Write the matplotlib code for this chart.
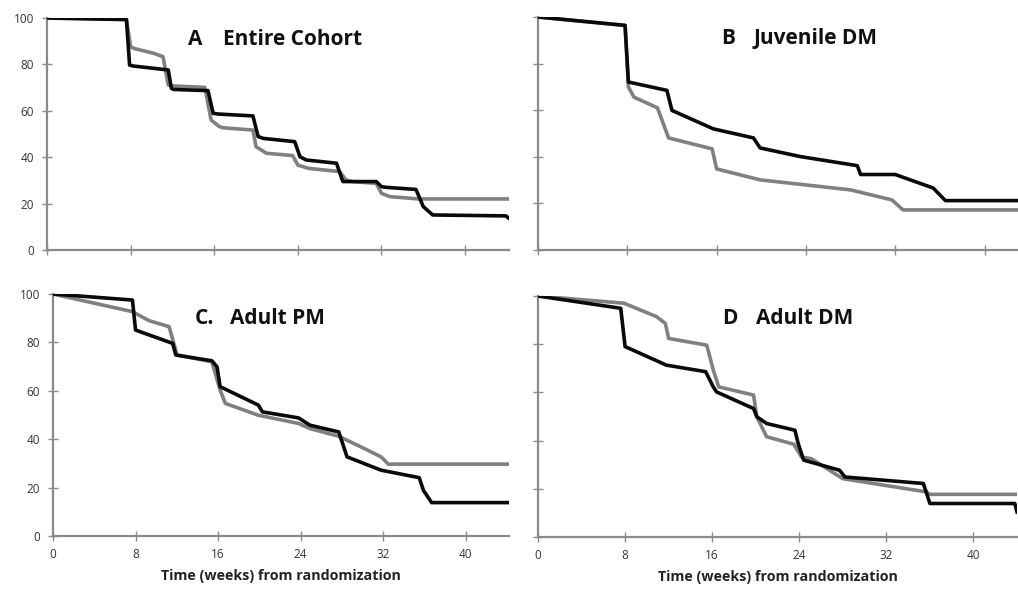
import matplotlib
matplotlib.use("Agg")
import matplotlib.pyplot as plt

plt.rcParams['font.family'] = ['Open Sans', 'DejaVu Sans']

# ---- data: (week, % in response) points ----
a_black_x = [0, 7.6, 7.9, 8.25, 11.6, 11.9, 12.1, 15.4, 15.9, 16.4, 19.7, 20.2, 20.7, 23.7, 24.2, 24.8, 27.7, 28.3, 28.9, 31.5, 32.0, 32.5, 35.3, 36.0, 36.9, 43.9, 44.2]
a_black_y = [100, 99.3, 79.7, 79.3, 77.6, 69.7, 69.2, 68.7, 58.9, 58.6, 57.8, 48.9, 48.1, 46.7, 40.2, 38.8, 37.4, 29.5, 29.5, 29.5, 27.3, 27.0, 26.1, 18.7, 15.1, 14.7, 13.6]
a_gray_x = [0, 7.6, 8.0, 8.3, 10.2, 11.1, 11.6, 12.1, 15.1, 15.7, 16.5, 16.8, 19.7, 20.0, 21.0, 23.5, 24.0, 25.0, 28.0, 28.6, 29.2, 31.5, 32.0, 32.8, 35.6, 44.2]
a_gray_y = [100, 99.5, 87.6, 86.9, 84.8, 83.3, 71.1, 70.7, 70.1, 56.0, 53.2, 52.7, 51.7, 44.5, 41.7, 40.7, 36.6, 35.2, 33.8, 30.2, 29.5, 28.7, 24.4, 23.0, 22.0, 22.0]

b_black_x = [0, 7.8, 8.1, 11.55, 12.0, 15.7, 19.3, 19.9, 23.5, 28.6, 28.9, 32.0, 35.4, 36.5, 43.0]
b_black_y = [100, 96.4, 72.1, 68.5, 59.9, 52.0, 48.1, 43.8, 40.1, 36.2, 32.4, 32.4, 26.6, 21.2, 21.2]
b_gray_x = [0, 7.8, 8.1, 8.6, 10.7, 11.7, 15.6, 16.0, 19.9, 28.0, 31.7, 32.7, 43.0]
b_gray_y = [100, 96.4, 69.9, 65.6, 61.0, 48.1, 43.4, 34.8, 30.1, 25.8, 21.5, 17.2, 17.2]

c_black_x = [0, 7.7, 8.0, 11.6, 11.9, 15.4, 15.9, 16.2, 19.9, 20.3, 23.8, 24.9, 27.7, 28.5, 31.8, 35.5, 35.9, 36.7, 44.2]
c_black_y = [100, 97.5, 85.1, 79.6, 74.8, 72.4, 69.9, 61.7, 54.1, 51.3, 48.8, 45.8, 43.0, 32.7, 27.2, 24.1, 18.9, 13.8, 13.8]
c_gray_x = [0, 7.7, 9.3, 11.25, 11.9, 12.0, 15.4, 16.2, 16.7, 19.9, 23.8, 24.9, 27.7, 30.2, 31.8, 32.5, 44.2]
c_gray_y = [100, 92.7, 89.0, 86.5, 76.8, 74.8, 72.0, 60.3, 54.8, 49.9, 46.5, 44.4, 41.2, 36.1, 32.7, 29.7, 29.7]

d_black_x = [0, 7.6, 8.0, 11.8, 15.4, 16.1, 16.4, 19.8, 20.1, 21.0, 23.6, 23.9, 24.4, 27.7, 28.2, 35.4, 36.0, 43.8, 44.0]
d_black_y = [100, 94.9, 79.0, 71.3, 68.6, 62.3, 60.2, 53.3, 49.9, 47.1, 44.3, 38.8, 31.9, 27.7, 24.9, 22.2, 13.9, 13.9, 10.4]
d_gray_x = [0, 7.9, 10.9, 11.7, 12.0, 15.5, 16.1, 16.6, 19.8, 20.1, 21.0, 23.5, 24.2, 25.1, 28.0, 35.7, 36.0, 44.0]
d_gray_y = [100, 97.0, 91.4, 88.6, 82.4, 79.6, 69.3, 62.3, 58.9, 49.9, 41.6, 38.5, 33.2, 32.5, 24.2, 18.7, 17.7, 17.7]

panel_letters = ["A", "B", "C.", "D"]
panel_names = ["Entire Cohort", "Juvenile DM", "Adult PM", "Adult DM"]
x_ticks = [0, 8, 16, 24, 32, 40]
y_ticks = [0, 20, 40, 60, 80, 100]
x_label = "Time (weeks) from randomization"

W, H = 1018, 592
fig = plt.figure(figsize=(W / 100, H / 100), dpi=100)

def frac(l, r, t, b):
    return [l / W, 1 - b / H, (r - l) / W, (b - t) / H]

rects = [frac(47, 509, 18, 250), frac(538, 1018, 17, 250),
         frac(53, 509, 294, 536), frac(538, 1017, 296, 537)]
xlims = [44.2, 43.0, 44.2, 44.0]
series = [(a_black_x, a_black_y, a_gray_x, a_gray_y),
          (b_black_x, b_black_y, b_gray_x, b_gray_y),
          (c_black_x, c_black_y, c_gray_x, c_gray_y),
          (d_black_x, d_black_y, d_gray_x, d_gray_y)]
# (letter x, name x, baseline y) in pixels
title_pos = [(188, 223, 45), (721, 754, 44), (195, 230, 324), (722, 756, 324)]

spine_col = '#8a8a8a'
for i, (rect, xl, s, tp) in enumerate(zip(rects, xlims, series, title_pos)):
    ax = fig.add_axes(rect)
    bx, by, gx, gy = s
    ax.plot(gx, gy, color='#808080', lw=2.6, solid_joinstyle='round', zorder=3)
    ax.plot(bx, by, color='#0a0a0a', lw=2.6, solid_joinstyle='round', zorder=4)
    ax.set_xlim(0, xl)
    ax.set_ylim(0, 100)
    ax.set_xticks(x_ticks)
    ax.set_yticks(y_ticks)
    for side in ['top', 'right']:
        ax.spines[side].set_visible(False)
    for side in ['left', 'bottom']:
        ax.spines[side].set_color(spine_col)
        ax.spines[side].set_linewidth(1.6)
    ax.tick_params(direction='inout', length=7, width=1.0, color=spine_col,
                   labelsize=8.5, labelcolor='#333333')
    ax.tick_params(axis='y', pad=6)
    ax.tick_params(axis='x', pad=5)
    if i in (1, 3):
        ax.set_yticklabels([])
    if i in (0, 1):
        ax.set_xticklabels([])
    else:
        ax.set_xlabel(x_label, fontsize=10.3, fontweight='bold', color='#222222', labelpad=6)
    ax.patch.set_alpha(0)
    fig.text(tp[0] / W, 1 - tp[2] / H, panel_letters[i], fontsize=15,
             fontweight='bold', color='#111111', ha='left', va='baseline')
    fig.text(tp[1] / W, 1 - tp[2] / H, panel_names[i], fontsize=15,
             fontweight='bold', color='#111111', ha='left', va='baseline')

fig.savefig("out.png", dpi=100)
